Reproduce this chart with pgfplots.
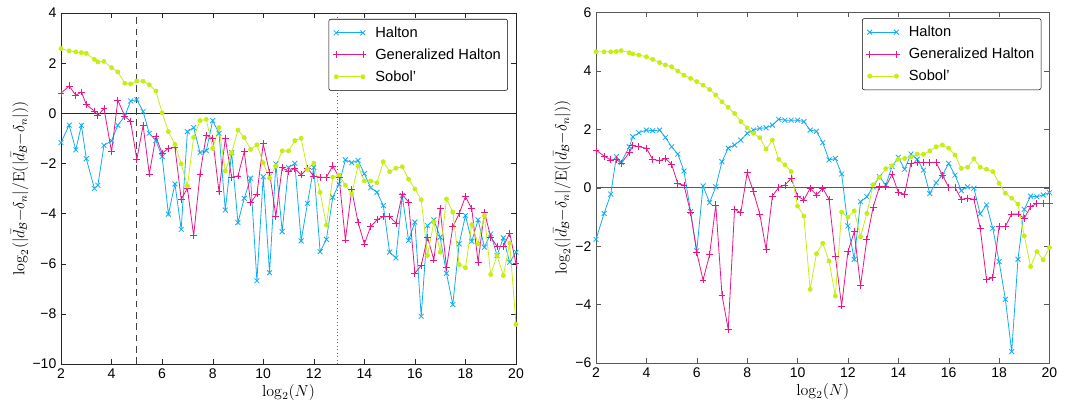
\documentclass[border=0pt]{standalone}
\usepackage[no-math]{fontspec}
\setmainfont{Liberation Sans}
\usepackage{pgfplots}
\usepackage{pgfplotstable}
\pgfplotsset{compat=1.18}
\definecolor{hcol}{RGB}{20,172,238}
\definecolor{gcol}{RGB}{232,22,135}
\definecolor{scol}{RGB}{196,238,20}

\pgfplotstableread{
x      H      G      S
2      -1.17  0.80   2.58
2.322  -0.47  1.09   2.49
2.585  -1.46  0.72   2.45
2.807  -0.48  0.85   2.42
3      -1.81  0.35   2.39
3.322  -3.00  0.09   2.15
3.459  -2.87  -0.08  2.05
3.700  -1.28  0.19   2.07
4      -1.10  -1.54  1.82
4.248  -0.48  0.52   1.65
4.524  -0.11  -0.11  1.20
4.755  0.49   -0.33  1.17
5      0.55   -1.84  1.29
5.248  0.07   -0.48  1.28
5.492  -0.80  -2.42  1.14
5.755  -1.09  -0.93  0.89
6      -1.73  -1.60  0.02
6.248  -4.02  -1.40  -0.73
6.508  -2.82  -1.36  -1.24
6.755  -4.63  -3.43  -2.02
7      -0.73  -2.99  -2.90
7.248  -0.57  -4.88  -0.96
7.5    -1.57  -2.42  -0.29
7.748  -1.49  -0.87  -0.24
8      -0.29  -1.00  -1.40
8.25   -0.80  -3.13  -0.57
8.5    -3.86  -1.00  -2.30
8.75   -1.57  -2.55  -1.57
9      -4.36  -2.50  -0.67
9.25   -3.39  -1.53  -0.97
9.5    -2.59  -3.57  -1.44
9.75   -6.68  -3.22  -1.26
10     -2.53  -1.22  -1.97
10.25  -6.36  -2.37  -2.59
10.5   -2.02  -4.10  -2.10
10.75  -4.72  -2.16  -1.50
11     -2.16  -2.33  -1.50
11.25  -2.00  -2.20  -1.09
11.5   -5.09  -2.46  -1.00
11.75  -3.59  -2.20  -2.24
12     -2.16  -2.50  -1.99
12.25  -5.52  -2.55  -3.15
12.5   -5.03  -2.55  -4.46
12.75  -3.35  -2.10  -2.55
13     -2.82  -2.55  -2.46
13.25  -1.86  -5.05  -2.87
13.5   -1.97  -3.05  -3.22
13.75  -1.88  -4.34  -2.10
14     -2.41  -5.21  -2.70
14.25  -2.97  -4.52  -2.70
14.5   -3.15  -4.25  -2.77
14.75  -3.68  -4.12  -1.93
15     -5.54  -4.12  -2.33
15.25  -5.77  -4.38  -2.19
15.5   -3.28  -3.24  -2.13
15.75  -5.07  -3.54  -2.63
16     -4.34  -6.38  -3.02
16.25  -8.10  -6.07  -3.45
16.5   -4.48  -4.94  -5.67
16.75  -4.25  -5.85  -4.34
17     -4.94  -3.81  -5.54
17.25  -6.38  -6.16  -3.42
17.5   -7.63  -4.52  -3.94
17.75  -5.21  -4.01  -6.03
18     -4.08  -3.32  -6.16
18.25  -5.11  -3.81  -4.44
18.5   -4.25  -5.94  -5.21
18.75  -5.34  -3.94  -4.08
19     -4.81  -4.94  -6.43
19.25  -5.67  -5.31  -5.67
19.5   -4.97  -5.31  -6.47
19.75  -5.94  -4.78  -5.18
20     -5.54  -6.00  -8.42
}\lefttab

\pgfplotstableread{
x      H      G      S
2      -1.77  1.29   4.65
2.322  -0.88  1.08   4.65
2.585  -0.22  0.95   4.65
2.807  1.06   0.97   4.66
3      0.87   0.83   4.69
3.322  1.40   1.20   4.62
3.459  1.74   1.43   4.58
3.700  1.88   1.40   4.54
4      1.97   1.35   4.48
4.248  1.95   0.97   4.39
4.524  1.97   0.92   4.28
4.755  1.72   1.00   4.20
5      1.40   0.80   4.14
5.248  1.15   0.13   3.99
5.492  0.57   0.09   3.85
5.755  -0.82  -0.86  3.74
6      -2.16  -2.22  3.63
6.248  0.06   -3.16  3.51
6.508  -0.51  -2.30  3.36
6.755  0.03   -0.59  3.17
7      0.89   -3.67  2.94
7.248  1.35   -4.85  2.75
7.5    1.46   -0.74  2.54
7.748  1.63   -0.86  2.26
8      1.86   0.51   2.05
8.25   1.97   -0.14  1.86
8.5    2.03   -0.90  1.71
8.75   2.05   -2.11  1.32
9      2.14   -0.29  1.63
9.25   2.34   0.01   0.97
9.5    2.31   0.09   0.78
9.75   2.31   0.32   0.55
10     2.31   -0.29  -0.63
10.25  2.26   -0.42  -0.97
10.5   1.97   -0.02  -3.48
10.75  1.93   -0.25  -2.26
11     1.54   -0.02  -1.90
11.25  0.95   -0.40  -2.51
11.5   1.00   -2.34  -3.71
11.75  0.47   -4.05  -0.84
12     -1.31  -2.19  -1.01
12.25  -2.45  -1.51  -0.79
12.5   -0.48  -3.36  -1.68
12.75  -0.31  -1.77  -0.88
13     0.03   -0.67  0.10
13.25  0.38   0.03   0.35
13.5   0.09   0.03   0.65
13.75  0.72   0.46   0.75
14     1.04   -0.17  0.97
14.25  0.63   -0.22  1.00
14.5   1.15   0.83   1.05
14.75  0.97   0.86   1.15
15     0.60   0.86   1.14
15.25  -0.20  0.86   1.26
15.5   0.17   0.86   1.40
15.75  0.43   0.43   1.46
16     0.83   0.01   1.35
16.25  0.43   0.01   1.12
16.5   -0.10  -0.40  0.66
16.75  0.03   -0.36  0.70
17     -0.02  -0.40  0.99
17.25  -0.90  -1.39  0.70
17.5   -0.59  -3.14  0.63
17.75  -1.39  -3.08  0.55
18     -2.53  -1.33  0.15
18.25  -3.82  -1.33  -0.19
18.5   -5.61  -0.90  -0.36
18.75  -2.45  -0.90  -0.56
19     -0.74  -1.05  -1.65
19.25  -0.29  -0.65  -2.70
19.5   -0.31  -0.54  -2.19
19.75  -0.25  -0.54  -2.47
20     -0.17  -0.54  -2.05
}\righttab

\pgfplotsset{
  mystyle/.style={
    scale only axis,
    xmin=2, xmax=20,
    xtick={2,4,...,20},
    tick align=inside,
    major tick length=3.75pt,
    /pgf/number format/assume math mode=true,
    tick label style={font=\fontsize{10.5}{12}\selectfont},
    xlabel={$\log_2(N)$},
    ylabel={$\log_2(|\bar{d}_{\mathcal{B}}{-}\delta_n|/\mathrm{E}(|\bar{d}_{\mathcal{B}}{-}\delta_n|))$},
    label style={font=\fontsize{12}{14}\selectfont},
    xlabel style={at={(axis description cs:0.5,-0.08)},anchor=center},
    legend style={at={(0.982,0.983)},anchor=north east,
      font=\fontsize{11}{13}\selectfont, rounded corners=1.5pt,
      row sep=3pt, inner xsep=3pt, inner ysep=3.5pt},
    legend cell align=left,
    legend image code/.code={\draw[mark repeat=2,mark phase=1,##1] plot coordinates {(0pt,0pt) (10pt,0pt) (20pt,0pt)}; \path (-1pt,0pt) (27pt,0pt);},
    every axis plot/.append style={line width=0.6pt},
  },
  hstyle/.style={color=hcol, mark=x, mark size=2.6pt},
  gstyle/.style={color=gcol, mark=+, mark size=2.6pt},
  sstyle/.style={color=scol, mark=*, mark size=1.5pt},
}

\begin{document}
\begin{tikzpicture}
\useasboundingbox (0,0) rectangle (800.25pt,303.75pt);
\begin{axis}[mystyle,
  at={(45.75pt,30.75pt)}, width=341.25pt, height=263.25pt,
  ymin=-10, ymax=4,
  ytick={-10,-8,...,4},
  yticklabels={−10,−8,−6,−4,−2,0,2,4},
  xticklabels={2,4,6,8,10,12,14,16,18,20},
  ylabel style={at={(axis description cs:-0.0905,0.5)},anchor=center},
  axis line style={black!85}, tick style={black!85},
]
\addplot[forget plot, black!85, line width=0.6pt] coordinates {(2,0) (20,0)};
\addplot[forget plot, black!75, line width=0.7pt, dash pattern=on 5pt off 3.5pt] coordinates {(5,-10) (5,4)};
\addplot[forget plot, black!60, line width=0.6pt, dotted] coordinates {(12.93,-10) (12.93,4)};
\addplot[hstyle] table[x=x,y=H] {\lefttab};
\addlegendentry{Halton}
\addplot[gstyle] table[x=x,y=G] {\lefttab};
\addlegendentry{Generalized Halton}
\addplot[sstyle] table[x=x,y=S] {\lefttab};
\addlegendentry{Sobol'}
\end{axis}
\begin{axis}[mystyle,
  at={(447pt,31.5pt)}, width=340.1pt, height=263pt,
  ymin=-6, ymax=6,
  ytick={-6,-4,...,6},
  yticklabels={−6,−4,−2,0,2,4,6},
  xticklabels={2,4,6,8,10,12,14,16,18,20},
  ylabel style={at={(axis description cs:-0.075,0.5)},anchor=center},
  axis line style={black!65}, tick style={black!65},
]
\addplot[forget plot, black!65, line width=0.7pt] coordinates {(2,0) (20,0)};
\addplot[hstyle] table[x=x,y=H] {\righttab};
\addlegendentry{Halton}
\addplot[gstyle] table[x=x,y=G] {\righttab};
\addlegendentry{Generalized Halton}
\addplot[sstyle] table[x=x,y=S] {\righttab};
\addlegendentry{Sobol'}
\end{axis}
\end{tikzpicture}
\end{document}
